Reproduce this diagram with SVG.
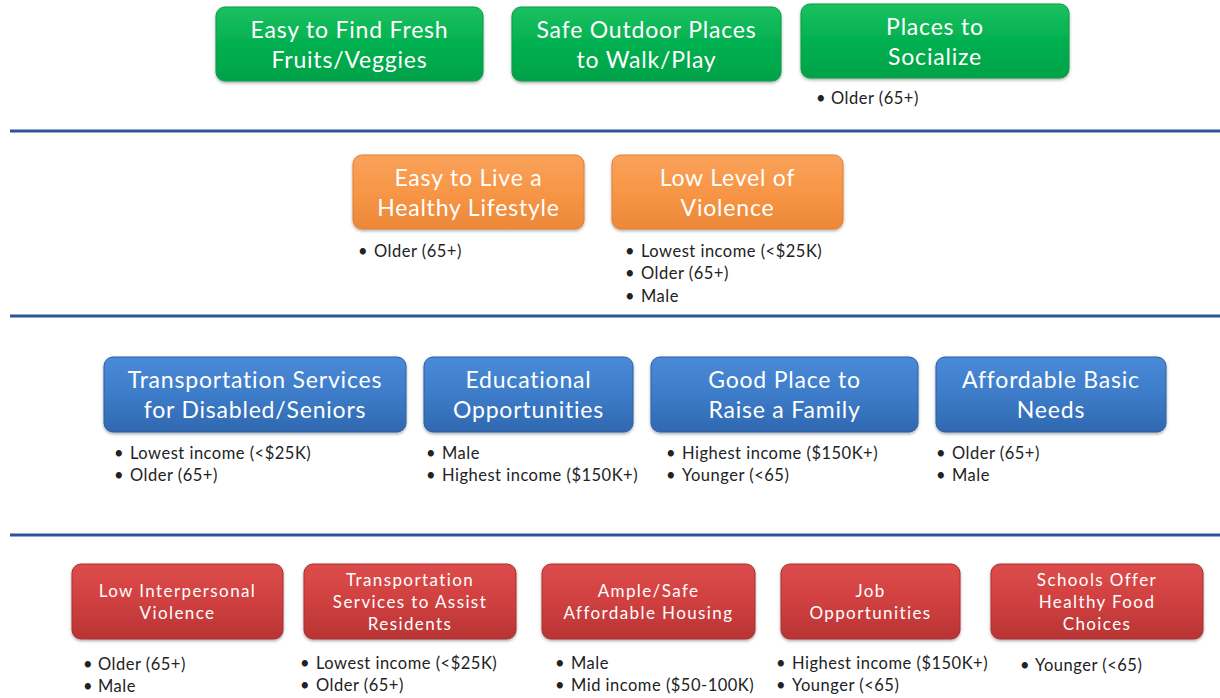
<svg xmlns="http://www.w3.org/2000/svg" width="1220" height="698" viewBox="0 0 1220 698">
<defs>
<linearGradient id="gG" x1="0" y1="0" x2="0" y2="1"><stop offset="0" stop-color="#1bc160"/><stop offset="0.5" stop-color="#03b050"/><stop offset="1" stop-color="#04a248"/></linearGradient>
<linearGradient id="gO" x1="0" y1="0" x2="0" y2="1"><stop offset="0" stop-color="#f9a25a"/><stop offset="0.5" stop-color="#f79646"/><stop offset="1" stop-color="#ec8838"/></linearGradient>
<linearGradient id="gB" x1="0" y1="0" x2="0" y2="1"><stop offset="0" stop-color="#4a8ad8"/><stop offset="0.5" stop-color="#3d7cc9"/><stop offset="1" stop-color="#2f68b0"/></linearGradient>
<linearGradient id="gR" x1="0" y1="0" x2="0" y2="1"><stop offset="0" stop-color="#dc4c4a"/><stop offset="0.5" stop-color="#d04040"/><stop offset="1" stop-color="#b83434"/></linearGradient>
<filter id="sh" x="-5%" y="-10%" width="110%" height="130%"><feDropShadow dx="0" dy="1.5" stdDeviation="1.5" flood-color="#000" flood-opacity="0.35"/></filter>
</defs>
<style>
.box{stroke-width:1;filter:url(#sh)}
.g{fill:url(#gG);stroke:#0a9a45}
.o{fill:url(#gO);stroke:#e08030}
.b{fill:url(#gB);stroke:#2c5f9e}
.r{fill:url(#gR);stroke:#a83030}
.t{font-family:Lato,"Open Sans","Liberation Sans",sans-serif;fill:#fff;text-anchor:middle}
.lg{font-size:23px;letter-spacing:0.8px}
.sm{font-size:17px;letter-spacing:1.4px}
.bl{font-family:Lato,"Open Sans","Liberation Sans",sans-serif;font-size:16.5px;letter-spacing:0.5px;fill:#222}
.sep{stroke:#2a5597;stroke-width:3}
</style>
<g id="separators">
<line class="sep" x1="10" y1="131" x2="1220" y2="131"/>
<line class="sep" x1="10" y1="316" x2="1220" y2="316"/>
<line class="sep" x1="10" y1="535" x2="1220" y2="535"/>
</g>
<g id="n1"><rect class="box g" x="216" y="7" width="267" height="74" rx="9"/><text class="t lg" x="349.5" y="38">Easy to Find Fresh</text><text class="t lg" x="349.5" y="68">Fruits/Veggies</text></g>
<g id="n2"><rect class="box g" x="512" y="7" width="269" height="74" rx="9"/><text class="t lg" x="646.5" y="38">Safe Outdoor Places</text><text class="t lg" x="646.5" y="68">to Walk/Play</text></g>
<g id="n3"><rect class="box g" x="801" y="4" width="268" height="74" rx="9"/><text class="t lg" x="935" y="35">Places to</text><text class="t lg" x="935" y="65">Socialize</text>
<text class="bl" y="104"><tspan x="816">•</tspan><tspan x="831">Older (65+)</tspan></text></g>
<g id="n4"><rect class="box o" x="353" y="155" width="231" height="74" rx="9"/><text class="t lg" x="468.5" y="186">Easy to Live a</text><text class="t lg" x="468.5" y="216">Healthy Lifestyle</text>
<text class="bl" y="257"><tspan x="358">•</tspan><tspan x="374">Older (65+)</tspan></text></g>
<g id="n5"><rect class="box o" x="612" y="155" width="231" height="74" rx="9"/><text class="t lg" x="727.5" y="186">Low Level of</text><text class="t lg" x="727.5" y="216">Violence</text>
<text class="bl" y="257"><tspan x="625">•</tspan><tspan x="641">Lowest income (&lt;$25K)</tspan></text>
<text class="bl" y="279"><tspan x="625">•</tspan><tspan x="641">Older (65+)</tspan></text>
<text class="bl" y="302"><tspan x="625">•</tspan><tspan x="641">Male</tspan></text></g>
<g id="n6"><rect class="box b" x="104" y="357" width="302" height="75" rx="9"/><text class="t lg" x="255" y="388">Transportation Services</text><text class="t lg" x="255" y="418">for Disabled/Seniors</text>
<text class="bl" y="459"><tspan x="114">•</tspan><tspan x="130">Lowest income (&lt;$25K)</tspan></text>
<text class="bl" y="481"><tspan x="114">•</tspan><tspan x="130">Older (65+)</tspan></text></g>
<g id="n7"><rect class="box b" x="424" y="357" width="209" height="75" rx="9"/><text class="t lg" x="528.5" y="388">Educational</text><text class="t lg" x="528.5" y="418">Opportunities</text>
<text class="bl" y="459"><tspan x="426">•</tspan><tspan x="442">Male</tspan></text>
<text class="bl" y="481"><tspan x="426">•</tspan><tspan x="442">Highest income ($150K+)</tspan></text></g>
<g id="n8"><rect class="box b" x="651" y="357" width="267" height="75" rx="9"/><text class="t lg" x="784.5" y="388">Good Place to</text><text class="t lg" x="784.5" y="418">Raise a Family</text>
<text class="bl" y="459"><tspan x="666">•</tspan><tspan x="682">Highest income ($150K+)</tspan></text>
<text class="bl" y="481"><tspan x="666">•</tspan><tspan x="682">Younger (&lt;65)</tspan></text></g>
<g id="n9"><rect class="box b" x="936" y="357" width="230" height="75" rx="9"/><text class="t lg" x="1051" y="388">Affordable Basic</text><text class="t lg" x="1051" y="418">Needs</text>
<text class="bl" y="459"><tspan x="936">•</tspan><tspan x="952">Older (65+)</tspan></text>
<text class="bl" y="481"><tspan x="936">•</tspan><tspan x="952">Male</tspan></text></g>
<g id="n10"><rect class="box r" x="72" y="564" width="211" height="75" rx="9"/><text class="t sm" x="177.5" y="597">Low Interpersonal</text><text class="t sm" x="177.5" y="619">Violence</text>
<text class="bl" y="670"><tspan x="83">•</tspan><tspan x="98">Older (65+)</tspan></text>
<text class="bl" y="692"><tspan x="83">•</tspan><tspan x="98">Male</tspan></text></g>
<g id="n11"><rect class="box r" x="304" y="564" width="212" height="75" rx="9"/><text class="t sm" x="410" y="586">Transportation</text><text class="t sm" x="410" y="608">Services to Assist</text><text class="t sm" x="410" y="630">Residents</text>
<text class="bl" y="669"><tspan x="300">•</tspan><tspan x="316">Lowest income (&lt;$25K)</tspan></text>
<text class="bl" y="691"><tspan x="300">•</tspan><tspan x="316">Older (65+)</tspan></text></g>
<g id="n12"><rect class="box r" x="542" y="564" width="213" height="75" rx="9"/><text class="t sm" x="648.5" y="597">Ample/Safe</text><text class="t sm" x="648.5" y="619">Affordable Housing</text>
<text class="bl" y="669"><tspan x="555">•</tspan><tspan x="571">Male</tspan></text>
<text class="bl" y="691"><tspan x="555">•</tspan><tspan x="571">Mid income ($50-100K)</tspan></text></g>
<g id="n13"><rect class="box r" x="781" y="564" width="179" height="75" rx="9"/><text class="t sm" x="870.5" y="597">Job</text><text class="t sm" x="870.5" y="619">Opportunities</text>
<text class="bl" y="669"><tspan x="776">•</tspan><tspan x="792">Highest income ($150K+)</tspan></text>
<text class="bl" y="691"><tspan x="776">•</tspan><tspan x="792">Younger (&lt;65)</tspan></text></g>
<g id="n14"><rect class="box r" x="991" y="564" width="212" height="75" rx="9"/><text class="t sm" x="1097" y="586">Schools Offer</text><text class="t sm" x="1097" y="608">Healthy Food</text><text class="t sm" x="1097" y="630">Choices</text>
<text class="bl" y="671"><tspan x="1020">•</tspan><tspan x="1035">Younger (&lt;65)</tspan></text></g>
<g id="connectors"/>
</svg>
